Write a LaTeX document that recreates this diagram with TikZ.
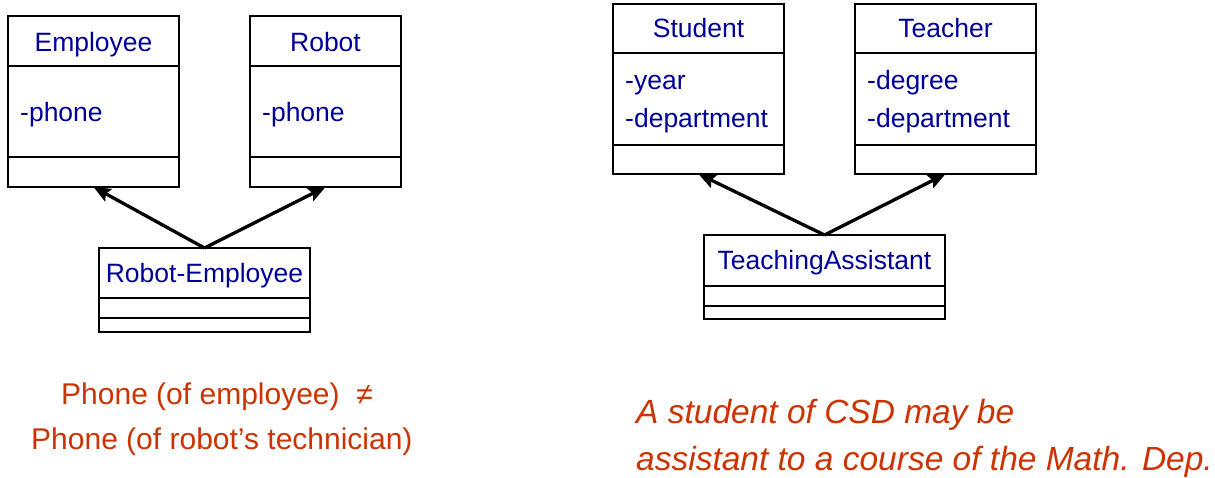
\documentclass[tikz,border=0pt]{standalone}
\usepackage{fontspec}
\setmainfont{Liberation Sans}
\usetikzlibrary{arrows.meta}
\definecolor{clsblue}{RGB}{0,0,153}
\definecolor{noteorange}{RGB}{204,51,0}
\begin{document}
\begin{tikzpicture}[x=1pt,y=-1pt,
  classbox/.style={draw, line width=1.2pt, inner sep=0pt, outer sep=0pt, fill=white},
  sepline/.style={line width=1.4pt},
  clsname/.style={text=clsblue, font=\fontsize{26.5}{30}\selectfont, inner sep=0pt, anchor=base},
  clsattr/.style={text=clsblue, font=\fontsize{26.5}{30}\selectfont, inner sep=0pt, anchor=base west},
  inherit/.style={line width=3.3pt, -{Stealth[length=17pt,width=14pt,inset=3pt]}},
  note/.style={text=noteorange, font=\fontsize{30}{36}\selectfont, inner sep=0pt, anchor=base west},
  inote/.style={text=noteorange, font=\fontsize{33.5}{40}\selectfont\itshape, inner sep=0pt, anchor=base west}
]
\useasboundingbox (0,0) rectangle (1215,478);

% ---- Robot / Employee hierarchy ----
\node[classbox, minimum width=171pt, minimum height=171pt] (emp) at (93.5,101.5) {};
\node[classbox, minimum width=151pt, minimum height=171pt] (rob) at (325.5,101.5) {};
\node[classbox, minimum width=211pt, minimum height=84pt] (robemp) at (204.5,290) {};

\foreach \b in {emp,rob}{
  \draw[sepline] (\b.west |- 0,66) -- (\b.east |- 0,66);
  \draw[sepline] (\b.west |- 0,157) -- (\b.east |- 0,157);
}
\draw[sepline] (robemp.west |- 0,298) -- (robemp.east |- 0,298);
\draw[sepline] (robemp.west |- 0,318) -- (robemp.east |- 0,318);

\node[clsname] (empT) at (93.5,52) {Employee};
\node[clsattr] (empA) at (20,122) {-phone};
\node[clsname] (robT) at (325.5,52) {Robot};
\node[clsattr] (robA) at (262,122) {-phone};
\node[clsname] (robempT) at (204.5,283) {Robot-Employee};

\draw[inherit] (robemp.north) -- (emp.south);
\draw[inherit] (robemp.north) -- (rob.south);

% ---- Student / Teacher hierarchy ----
\node[classbox, minimum width=171pt, minimum height=170pt] (stu) at (698.5,89) {};
\node[classbox, minimum width=181pt, minimum height=170pt] (tea) at (945.5,89) {};
\node[classbox, minimum width=241pt, minimum height=84pt] (ta) at (824.5,277) {};

\foreach \b in {stu,tea}{
  \draw[sepline] (\b.west |- 0,53) -- (\b.east |- 0,53);
  \draw[sepline] (\b.west |- 0,145) -- (\b.east |- 0,145);
}
\draw[sepline] (ta.west |- 0,286) -- (ta.east |- 0,286);
\draw[sepline] (ta.west |- 0,306) -- (ta.east |- 0,306);

\node[clsname] (stuT) at (698.5,38) {Student};
\node[clsattr] (stuA1) at (625,90) {-year};
\node[clsattr] (stuA2) at (625,128) {-department};
\node[clsname] (teaT) at (945.5,38) {Teacher};
\node[clsattr] (teaA1) at (867,90) {-degree};
\node[clsattr] (teaA2) at (867,128) {-department};
\node[clsname] (taT) at (824.5,270) {TeachingAssistant};

\draw[inherit] (ta.north) -- (stu.south);
\draw[inherit] (ta.north) -- (tea.south);

% ---- notes ----
\node[note] (n1) at (61,404) {Phone (of employee)\ \ ≠};
\node[note] (n2) at (31,449) {Phone (of robot’s technician)};
\node[inote] (n3) at (636,423) {A student of CSD may be};
\node[inote] (n4) at (636,470) {assistant to a course of the Math. Dep.};
\end{tikzpicture}
\end{document}
